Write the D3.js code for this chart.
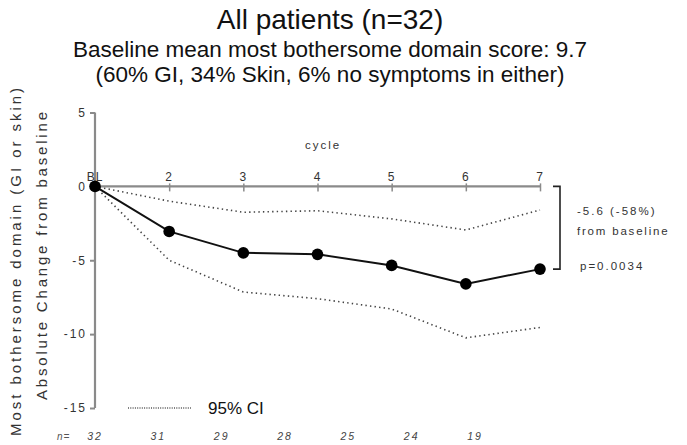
<!DOCTYPE html>
<html>
<head>
<meta charset="utf-8">
<script src="https://cdn.jsdelivr.net/npm/d3@7"></script>
<style>
  html, body { margin: 0; padding: 0; background: #fff; }
  svg { display: block; font-family: "Liberation Sans", Arial, sans-serif; }
</style>
</head>
<body>
<svg id="chart" width="687" height="445"></svg>
<script>
// Cycle positions (1 = baseline) and their axis labels
const cycles = [1, 2, 3, 4, 5, 6, 7];
const cycleLabels = ["BL", "2", "3", "4", "5", "6", "7"];
// Mean absolute change from baseline in the most bothersome domain
const meanChange = [0, -3.05, -4.5, -4.6, -5.35, -6.6, -5.6];
// 95% confidence interval bounds
const ciUpper = [0, -1.0, -1.75, -1.65, -2.2, -2.95, -1.6];
const ciLower = [0, -5.0, -7.15, -7.6, -8.3, -10.25, -9.55];
// Patients contributing at each visit
const nPatients = ["32", "31", "29", "28", "25", "24", "19"];
const yTicks = [5, 0, -5, -10, -15];

const svg = d3.select("#chart");
const axisGray = "#8a8a8a";
const textGray = "#333";

const x = d3.scaleLinear().domain([1, 7]).range([95, 540]);
const y = d3.scaleLinear().domain([-15, 5]).range([408, 112.5]);

// Titles
const cx = 330;
svg.append("text").attr("x", cx).attr("y", 29).attr("text-anchor", "middle")
  .attr("font-size", 28).attr("fill", "#111").text("All patients (n=32)");
svg.append("text").attr("x", cx).attr("y", 57).attr("text-anchor", "middle")
  .attr("font-size", 22.5).attr("fill", "#111").text("Baseline mean most bothersome domain score: 9.7");
svg.append("text").attr("x", cx).attr("y", 82).attr("text-anchor", "middle")
  .attr("font-size", 22.5).attr("fill", "#111").text("(60% GI, 34% Skin, 6% no symptoms in either)");

// Y axis
const yAxis = svg.append("g").attr("transform", `translate(${x(1)},0)`)
  .call(d3.axisLeft(y).tickValues(yTicks).tickSize(5).tickPadding(3).tickFormat(d3.format("d")));
yAxis.select(".domain").attr("stroke", axisGray).attr("stroke-width", 2.2)
  .attr("d", `M0,${y(5)}V${y(-15)}`);
yAxis.selectAll(".tick line").attr("stroke", axisGray).attr("stroke-width", 2);
yAxis.selectAll(".tick text").attr("font-size", 12).attr("fill", textGray)
  .attr("letter-spacing", 2).attr("font-family", "Liberation Sans, Arial, sans-serif")
  .text(d => d < 0 ? "-" + Math.abs(d) : d);

// X axis sits at zero, labels above the line
const xAxis = svg.append("g").attr("transform", `translate(0,${y(0)})`)
  .call(d3.axisBottom(x).tickValues(cycles.slice(1)).tickSize(6).tickFormat(""));
xAxis.select(".domain").attr("stroke", axisGray).attr("stroke-width", 2.2)
  .attr("d", `M${x(1)},0H${x(7)}`);
xAxis.selectAll(".tick line").attr("stroke", axisGray).attr("stroke-width", 1.5)
  .attr("y1", -3).attr("y2", 5);
svg.append("g").selectAll("text").data(cycles).join("text")
  .attr("x", d => x(d)).attr("y", y(0) - 5).attr("text-anchor", "middle")
  .attr("font-size", 12).attr("fill", textGray).attr("letter-spacing", 1)
  .text((d, i) => cycleLabels[i]);

svg.append("text").attr("x", 323).attr("y", 149).attr("text-anchor", "middle")
  .attr("font-size", 11.5).attr("letter-spacing", 2).attr("fill", textGray).text("cycle");

// Y axis title, two rotated lines
const yTitle = svg.append("g").attr("transform", "rotate(-90)");
yTitle.append("text").attr("x", -262).attr("y", 21).attr("text-anchor", "middle")
  .attr("font-size", 15).attr("fill", textGray)
  .attr("textLength", 348).attr("lengthAdjust", "spacing")
  .text("Most bothersome domain (GI or skin)");
yTitle.append("text").attr("x", -256).attr("y", 47).attr("text-anchor", "middle")
  .attr("font-size", 15).attr("fill", textGray)
  .attr("textLength", 288).attr("lengthAdjust", "spacing")
  .text("Absolute Change from baseline");

// CI lines
const line = d3.line().x((d, i) => x(cycles[i])).y(d => y(d));
[ciUpper, ciLower].forEach(arr => {
  svg.append("path").datum(arr).attr("d", line).attr("fill", "none")
    .attr("stroke", "#444").attr("stroke-width", 1.6)
    .attr("stroke-dasharray", "1.4,3.2").attr("stroke-linecap", "butt");
});

// Mean line with markers
svg.append("path").datum(meanChange).attr("d", line).attr("fill", "none")
  .attr("stroke", "#111").attr("stroke-width", 2);
svg.append("g").selectAll("circle").data(meanChange).join("circle")
  .attr("cx", (d, i) => x(cycles[i])).attr("cy", d => y(d)).attr("r", 5.8).attr("fill", "#000");

// Bracket from baseline to final visit
const bx = x(7) + 20;
svg.append("path")
  .attr("d", `M${bx - 7},${y(0)}H${bx}V${y(meanChange[6])}H${bx - 7}`)
  .attr("fill", "none").attr("stroke", "#222").attr("stroke-width", 1.6);
svg.append("text").attr("x", 577).attr("y", 215).attr("font-size", 11.5)
  .attr("letter-spacing", 2).attr("fill", textGray).text("-5.6 (-58%)");
svg.append("text").attr("x", 577).attr("y", 235).attr("font-size", 11.5)
  .attr("letter-spacing", 1.8).attr("fill", textGray).text("from baseline");
svg.append("text").attr("x", 580).attr("y", 270).attr("font-size", 11.5)
  .attr("letter-spacing", 2).attr("fill", textGray).text("p=0.0034");

// Legend
svg.append("line").attr("x1", 128).attr("x2", 191).attr("y1", 408).attr("y2", 408)
  .attr("stroke", "#555").attr("stroke-width", 1.5).attr("stroke-dasharray", "1,1.3");
svg.append("text").attr("x", 208).attr("y", 414).attr("font-size", 17).attr("fill", "#111")
  .text("95% CI");

// Patient counts row
const nx = d3.scalePoint().domain(nPatients.map((d, i) => i)).range([95, 475]);
svg.append("text").attr("x", 57).attr("y", 440).attr("font-size", 10)
  .attr("font-style", "italic").attr("fill", "#555").attr("letter-spacing", 1).text("n=");
svg.append("g").selectAll("text").data(nPatients).join("text")
  .attr("x", (d, i) => nx(i)).attr("y", 440).attr("text-anchor", "middle")
  .attr("font-size", 10.5).attr("font-style", "italic").attr("fill", "#444")
  .attr("letter-spacing", 2).text(d => d);
</script>
</body>
</html>
